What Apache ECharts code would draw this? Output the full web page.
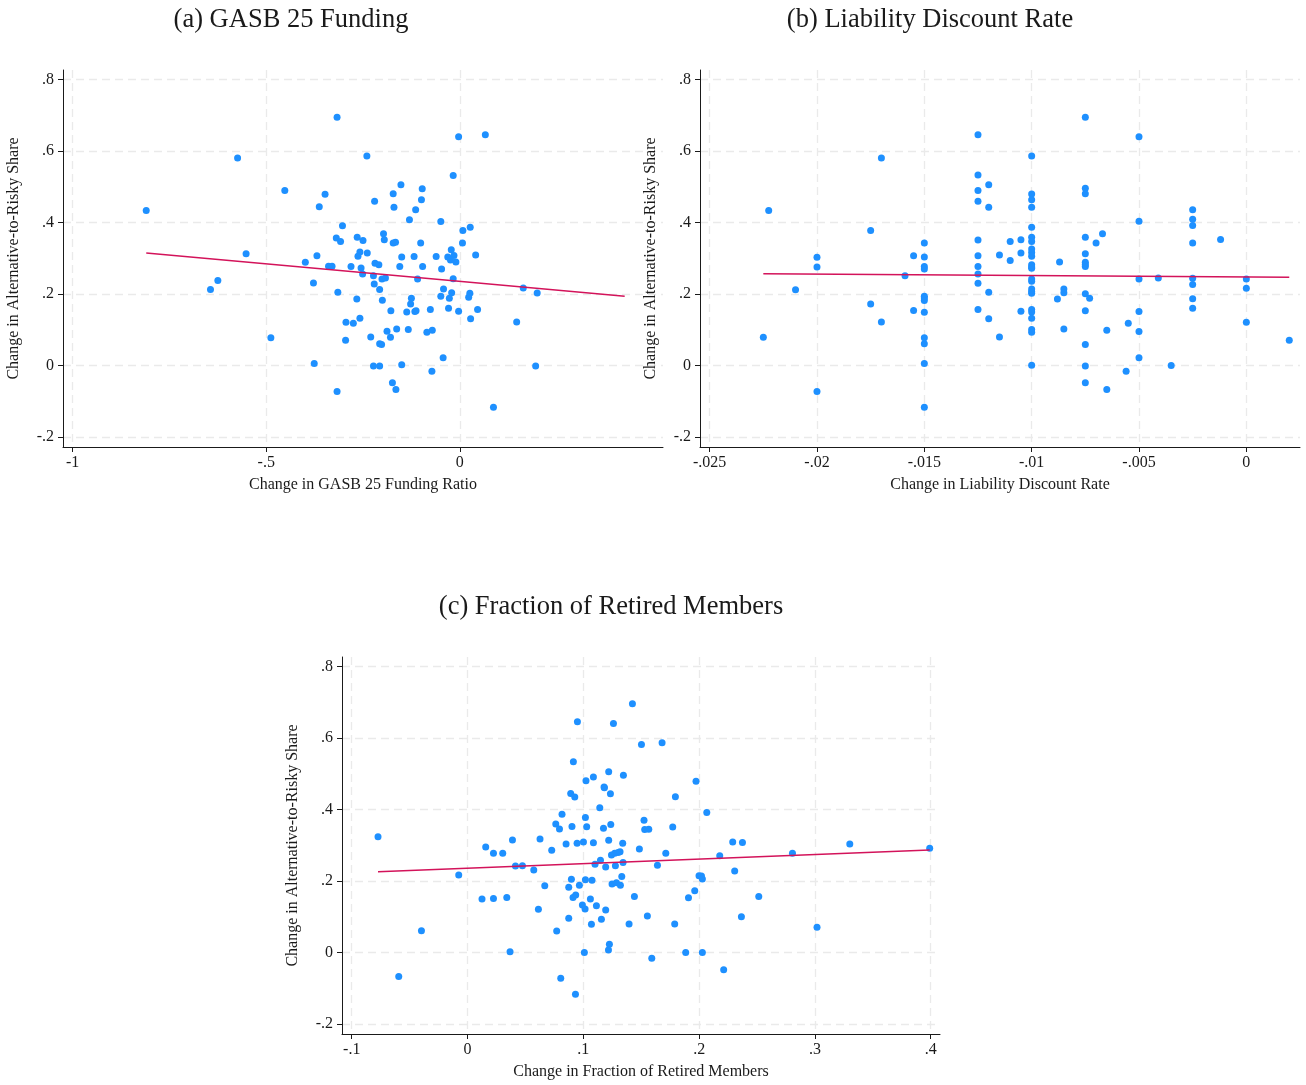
<!DOCTYPE html>
<html>
<head>
<meta charset="utf-8">
<title>Alternative-to-Risky Share scatter plots</title>
<script src="https://cdn.jsdelivr.net/npm/echarts@6.0.0/dist/echarts.min.js"></script>
<style>
  html, body { margin: 0; padding: 0; background: #ffffff; }
  #chart { width: 1306px; height: 1085px; }
</style>
</head>
<body>
<div id="chart"></div>
<script>
// (a) change in GASB 25 funding ratio vs change in alternative-to-risky share
const gasbPoints = [
  [-0.574, 0.581], [-0.452, 0.490], [-0.810, 0.434], [-0.552, 0.313], [-0.625, 0.238],
  [-0.644, 0.213], [-0.488, 0.078],
  [-0.317, 0.695], [-0.003, 0.640], [0.066, 0.646], [-0.240, 0.586], [-0.017, 0.532],
  [-0.152, 0.506], [-0.097, 0.495], [-0.348, 0.479], [-0.172, 0.481], [-0.220, 0.460],
  [-0.099, 0.464], [-0.363, 0.444], [-0.170, 0.443], [-0.114, 0.436], [-0.130, 0.408],
  [-0.049, 0.403], [-0.303, 0.391], [0.008, 0.378], [0.027, 0.387], [-0.319, 0.357],
  [-0.308, 0.347], [-0.265, 0.359], [-0.250, 0.350], [-0.197, 0.369], [-0.195, 0.352],
  [-0.172, 0.343], [-0.166, 0.345], [-0.101, 0.343], [0.007, 0.343], [-0.022, 0.324],
  [-0.369, 0.307], [-0.399, 0.289], [-0.258, 0.318], [-0.263, 0.306], [-0.239, 0.315],
  [-0.150, 0.304], [-0.118, 0.305], [-0.061, 0.305], [-0.031, 0.304], [-0.015, 0.308],
  [-0.024, 0.295], [-0.010, 0.290], [0.041, 0.309], [-0.339, 0.278], [-0.330, 0.278],
  [-0.281, 0.277], [-0.219, 0.286], [-0.209, 0.282], [-0.255, 0.273], [-0.155, 0.277],
  [-0.096, 0.277], [-0.047, 0.270], [-0.251, 0.256], [-0.223, 0.251], [-0.201, 0.242],
  [-0.192, 0.245], [-0.109, 0.242], [-0.017, 0.243], [-0.378, 0.231], [-0.221, 0.228],
  [-0.207, 0.213], [-0.315, 0.205], [-0.042, 0.214], [-0.021, 0.204], [0.026, 0.202],
  [0.023, 0.191], [-0.049, 0.194], [-0.027, 0.188], [0.164, 0.217], [0.200, 0.203],
  [-0.266, 0.186], [-0.200, 0.183], [-0.125, 0.188], [-0.127, 0.172], [-0.178, 0.153],
  [-0.137, 0.150], [-0.116, 0.151], [-0.113, 0.153], [-0.076, 0.157], [-0.029, 0.160],
  [-0.003, 0.152], [0.046, 0.157], [0.028, 0.131], [-0.294, 0.121], [-0.275, 0.118],
  [-0.258, 0.132], [0.147, 0.122], [-0.188, 0.096], [-0.163, 0.102], [-0.133, 0.101],
  [-0.085, 0.093], [-0.071, 0.099], [-0.230, 0.080], [-0.179, 0.079], [-0.295, 0.071],
  [-0.207, 0.061], [-0.202, 0.059], [-0.376, 0.006], [-0.223, -0.001], [-0.207, -0.001],
  [-0.150, 0.002], [-0.043, 0.022], [-0.072, -0.016], [0.196, -0.001], [-0.174, -0.048],
  [-0.165, -0.067], [-0.317, -0.073], [0.087, -0.117]
];
const gasbFit = [[-0.810, 0.315], [0.426, 0.194]];

// (b) change in liability discount rate
const ratePoints = [
  [-0.0170, 0.581], [-0.0125, 0.646], [-0.0125, 0.533], [-0.0120, 0.506], [-0.0125, 0.490],
  [-0.0125, 0.460], [-0.0120, 0.443], [-0.02225, 0.434], [-0.0175, 0.378], [-0.0150, 0.343],
  [-0.0125, 0.351], [-0.0110, 0.347], [-0.0200, 0.303], [-0.0155, 0.307], [-0.0150, 0.304],
  [-0.0115, 0.309], [-0.0110, 0.294], [-0.0200, 0.276], [-0.0150, 0.277], [-0.0150, 0.270],
  [-0.0125, 0.307], [-0.0125, 0.277], [-0.0159, 0.251], [-0.0125, 0.256], [-0.0125, 0.230],
  [-0.0210, 0.212], [-0.0120, 0.205], [-0.0150, 0.194], [-0.0150, 0.189], [-0.0150, 0.182],
  [-0.0175, 0.172], [-0.0155, 0.154], [-0.0150, 0.149], [-0.0125, 0.157], [-0.0120, 0.131],
  [-0.0170, 0.122], [-0.0225, 0.079], [-0.0150, 0.078], [-0.0150, 0.061], [-0.0115, 0.080],
  [-0.0150, 0.006], [-0.0200, -0.073], [-0.0150, -0.117],
  [-0.0075, 0.695], [-0.0050, 0.640], [-0.0100, 0.586], [-0.0075, 0.496], [-0.0075, 0.481],
  [-0.0100, 0.480], [-0.0100, 0.464], [-0.0100, 0.443], [-0.0025, 0.436], [-0.0025, 0.409],
  [-0.0025, 0.392], [-0.0050, 0.404], [-0.0100, 0.387], [-0.0105, 0.352], [-0.0100, 0.359],
  [-0.0100, 0.347], [-0.0100, 0.326], [-0.0100, 0.316], [-0.0100, 0.306], [-0.0075, 0.359],
  [-0.0067, 0.369], [-0.0070, 0.343], [-0.0025, 0.343], [-0.0012, 0.353], [-0.0105, 0.315],
  [-0.0087, 0.290], [-0.0075, 0.313], [-0.0075, 0.289], [-0.0075, 0.283], [-0.0075, 0.277],
  [-0.0100, 0.282], [-0.0100, 0.276], [-0.0100, 0.272], [-0.0100, 0.242], [-0.0100, 0.236],
  [-0.0100, 0.214], [-0.0100, 0.207], [-0.0100, 0.202], [-0.0050, 0.242], [-0.0041, 0.245],
  [-0.0025, 0.244], [-0.0025, 0.227], [0.0000, 0.242], [0.0000, 0.216], [-0.0085, 0.214],
  [-0.0085, 0.204], [-0.0088, 0.186], [-0.0075, 0.201], [-0.0073, 0.188], [-0.0025, 0.187],
  [-0.0025, 0.160], [-0.0105, 0.152], [-0.0100, 0.157], [-0.0100, 0.150], [-0.0100, 0.132],
  [-0.0075, 0.153], [-0.0050, 0.151], [0.0000, 0.121], [-0.0085, 0.102], [-0.0100, 0.101],
  [-0.0100, 0.093], [-0.0065, 0.099], [-0.0055, 0.118], [-0.0050, 0.095], [0.0020, 0.071],
  [-0.0075, 0.059], [-0.0050, 0.022], [-0.0100, 0.001], [-0.0075, -0.001], [-0.0035, 0.000],
  [-0.0056, -0.016], [-0.0075, -0.048], [-0.0065, -0.067]
];
const rateFit = [[-0.0225, 0.257], [0.0020, 0.247]];

// (c) change in fraction of retired members
const retiredPoints = [
  [-0.0773, 0.324], [-0.0076, 0.217], [-0.0398, 0.061], [-0.0594, -0.067], [0.0157, 0.295],
  [0.0224, 0.278], [0.0304, 0.278], [0.0388, 0.315], [0.0414, 0.242], [0.0474, 0.243],
  [0.0572, 0.231], [0.0626, 0.318], [0.0727, 0.286], [0.0762, 0.360], [0.0794, 0.346],
  [0.0816, 0.387], [0.0851, 0.304], [0.0667, 0.187], [0.0874, 0.183], [0.0125, 0.150],
  [0.0224, 0.151], [0.0339, 0.154], [0.0612, 0.121], [0.0874, 0.096], [0.0770, 0.060],
  [0.0367, 0.002], [0.0805, -0.072],
  [0.1424, 0.696], [0.0949, 0.646], [0.1260, 0.641], [0.1502, 0.582], [0.1680, 0.587],
  [0.0914, 0.534], [0.1219, 0.506], [0.1023, 0.481], [0.1087, 0.491], [0.1346, 0.496],
  [0.1973, 0.479], [0.1179, 0.463], [0.1182, 0.461], [0.0891, 0.445], [0.0926, 0.435],
  [0.1234, 0.444], [0.1795, 0.436], [0.1142, 0.405], [0.2066, 0.392], [0.1018, 0.378],
  [0.1524, 0.370], [0.0902, 0.353], [0.1029, 0.352], [0.1174, 0.348], [0.1237, 0.358],
  [0.1530, 0.344], [0.1565, 0.345], [0.1772, 0.351], [0.1219, 0.314], [0.0946, 0.306],
  [0.1001, 0.309], [0.1087, 0.307], [0.1340, 0.306], [0.2290, 0.309], [0.2374, 0.308],
  [0.3301, 0.304], [0.1484, 0.290], [0.1712, 0.278], [0.2806, 0.278], [0.3991, 0.292],
  [0.1243, 0.273], [0.1271, 0.278], [0.1300, 0.280], [0.1317, 0.282], [0.1148, 0.258],
  [0.1101, 0.247], [0.1193, 0.239], [0.1277, 0.243], [0.1343, 0.252], [0.1640, 0.244],
  [0.2178, 0.271], [0.2307, 0.228], [0.0897, 0.205], [0.1018, 0.204], [0.1075, 0.202],
  [0.1332, 0.213], [0.0966, 0.188], [0.1248, 0.192], [0.1286, 0.195], [0.1320, 0.188],
  [0.1999, 0.215], [0.2020, 0.214], [0.2028, 0.206], [0.1962, 0.173], [0.1908, 0.153],
  [0.2515, 0.157], [0.0911, 0.154], [0.0934, 0.161], [0.1061, 0.150], [0.1441, 0.157],
  [0.0992, 0.133], [0.1015, 0.122], [0.1113, 0.131], [0.1193, 0.119], [0.1156, 0.093],
  [0.1070, 0.079], [0.1395, 0.080], [0.1553, 0.102], [0.1789, 0.080], [0.2365, 0.100],
  [0.3018, 0.071], [0.1009, 0.000], [0.1217, 0.007], [0.1225, 0.023], [0.1591, -0.016],
  [0.1884, 0.000], [0.2028, 0.000], [0.2212, -0.048], [0.0932, -0.117]
];
const retiredFit = [[-0.0773, 0.226], [0.3991, 0.287]];

// tick positions
const shareTicks = [-0.2, 0, 0.2, 0.4, 0.6, 0.8];
const gasbTicks = [-1, -0.5, 0];
const rateTicks = [-0.025, -0.02, -0.015, -0.01, -0.005, 0];
const retiredTicks = [-0.1, 0, 0.1, 0.2, 0.3, 0.4];

const panelTitles = ['(a) GASB 25 Funding', '(b) Liability Discount Rate', '(c) Fraction of Retired Members'];
const xTitles = ['Change in GASB 25 Funding Ratio', 'Change in Liability Discount Rate', 'Change in Fraction of Retired Members'];
const yTitle = 'Change in Alternative-to-Risky Share';

const FONT = '"Liberation Serif", "Times New Roman", serif';
const INK = '#1a1a1a';
const DOT = 'rgb(30,144,255)';
const FIT = '#d3135a';
const GRID = '#eaeaea';

// Stata-style numbers: no leading zero
function fmt(v) {
  const s = String(+v.toFixed(4));
  return s.replace(/^(-?)0\./, '$1.');
}

function xAxisFor(idx, ticks, min, max, name) {
  return {
    type: 'value', gridIndex: idx, min: min, max: max,
    name: name, nameLocation: 'middle', nameGap: 30,
    nameTextStyle: { fontFamily: FONT, fontSize: 16, color: INK },
    axisLine: { show: true, onZero: false, lineStyle: { color: INK, width: 1 } },
    axisTick: { show: true, length: 5, customValues: ticks, lineStyle: { color: INK } },
    axisLabel: { customValues: ticks, formatter: fmt, margin: 8,
      fontFamily: FONT, fontSize: 16, color: INK },
    splitLine: { show: true, lineStyle: { color: GRID, type: [8, 5], width: 1.3 } }
  };
}
function yAxisFor(idx) {
  return {
    type: 'value', gridIndex: idx, min: -0.228, max: 0.827,
    name: yTitle, nameLocation: 'middle', nameGap: 41,
    nameTextStyle: { fontFamily: FONT, fontSize: 16, color: INK },
    axisLine: { show: true, onZero: false, lineStyle: { color: INK, width: 1 } },
    axisTick: { show: true, length: 5, customValues: shareTicks, lineStyle: { color: INK } },
    axisLabel: { customValues: shareTicks, formatter: fmt, margin: 9,
      fontFamily: FONT, fontSize: 16, color: INK },
    splitLine: { show: true, lineStyle: { color: GRID, type: [8, 5], width: 1.3 } }
  };
}
function scatter(idx, data) {
  return { type: 'scatter', xAxisIndex: idx, yAxisIndex: idx, data: data,
    symbol: 'circle', symbolSize: 7, itemStyle: { color: DOT, opacity: 1 }, z: 3 };
}
function fit(idx, data) {
  return { type: 'line', xAxisIndex: idx, yAxisIndex: idx, data: data,
    showSymbol: false, symbol: 'none', lineStyle: { color: FIT, width: 1.4 }, z: 4 };
}
function titleText(text, x, y) {
  return { type: 'text', x: x, y: y,
    style: { text: text, fontFamily: FONT, fontSize: 26.5, fill: INK,
      textAlign: 'center', textVerticalAlign: 'middle' } };
}

const chart = echarts.init(document.getElementById('chart'), null, { renderer: 'canvas' });
chart.setOption({
  backgroundColor: '#ffffff',
  animation: false,
  grid: [
    { left: 63, top: 70, width: 600, height: 377 },
    { left: 700, top: 70, width: 600, height: 377 },
    { left: 342, top: 657, width: 598, height: 377 }
  ],
  xAxis: [
    xAxisFor(0, gasbTicks, -1.025, 0.525, xTitles[0]),
    xAxisFor(1, rateTicks, -0.02545, 0.0025, xTitles[1]),
    xAxisFor(2, retiredTicks, -0.1084, 0.408, xTitles[2])
  ],
  yAxis: [yAxisFor(0), yAxisFor(1), yAxisFor(2)],
  series: [
    scatter(0, gasbPoints), fit(0, gasbFit),
    scatter(1, ratePoints), fit(1, rateFit),
    scatter(2, retiredPoints), fit(2, retiredFit)
  ],
  graphic: [
    titleText(panelTitles[0], 291, 20),
    titleText(panelTitles[1], 930, 20),
    titleText(panelTitles[2], 611, 607)
  ]
});
</script>
</body>
</html>
